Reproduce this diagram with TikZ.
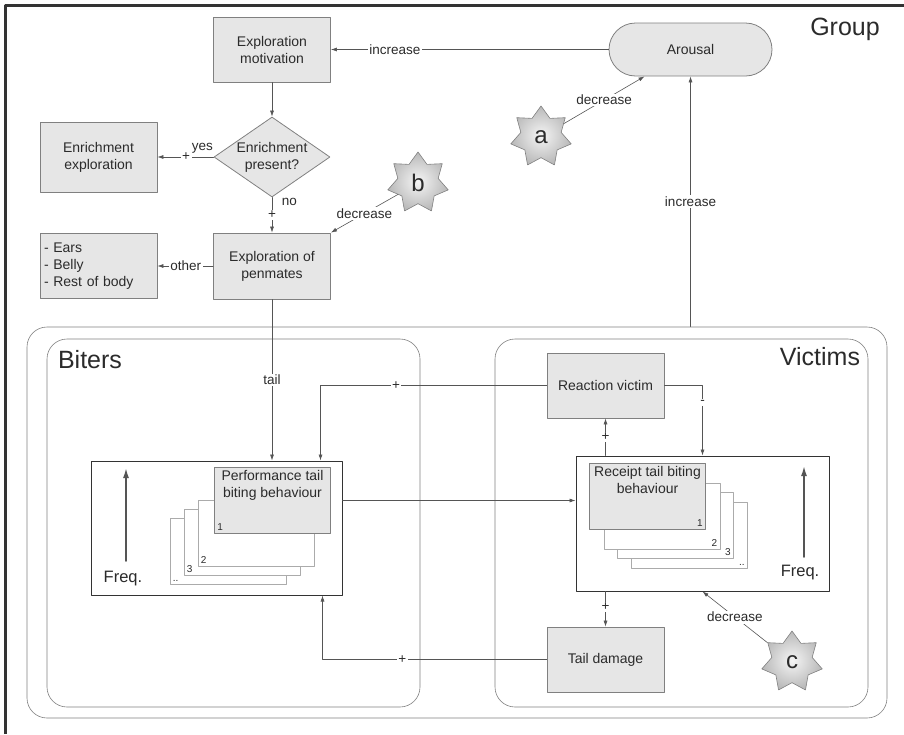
\documentclass[tikz,border=0pt]{standalone}
\usepackage{fontspec}
\setmainfont{Liberation Sans}
\usetikzlibrary{arrows.meta,shapes.geometric,shapes.misc,calc}
\definecolor{boxgray}{HTML}{E6E6E6}
\definecolor{edgegray}{HTML}{808080}
\definecolor{linegray}{HTML}{555555}
\definecolor{cardgray}{HTML}{ABABAB}
\definecolor{txtgray}{HTML}{2B2B2B}
\tikzset{
    box/.style={
        draw=edgegray, fill=boxgray, line width=0.8pt,
        minimum width=117pt, minimum height=65pt,
        align=center, inner sep=2pt,
        font=\fontsize{14}{17}\selectfont
    },
    decision/.style={
        box, shape=diamond, minimum width=116pt, minimum height=80pt,
        inner sep=0pt, aspect=1.45
    },
    pill/.style={
        box, shape=rounded rectangle, minimum width=167pt, minimum height=53pt
    },
    area/.style={
        draw=edgegray, line width=0.6pt, rounded corners=20pt
    },
    frame/.style={
        draw=black!80, fill=white, line width=1pt
    },
    card/.style={
        draw=cardgray, fill=white, line width=0.6pt,
        minimum width=116pt, minimum height=66pt
    },
    topcard/.style={
        card, draw=edgegray, fill=boxgray
    },
    cardtxt/.style={
        align=center, inner sep=3pt, font=\fontsize{14}{17}\selectfont
    },
    num/.style={
        inner sep=3pt, font=\fontsize{10}{12}\selectfont
    },
    lab/.style={
        fill=white, inner sep=1.5pt, font=\fontsize{13.5}{16}\selectfont
    },
    title/.style={
        font=\fontsize{25}{30}\selectfont
    },
    burst/.style={
        shape=star, star points=7, star point ratio=1.5,
        minimum size=62pt, inner sep=0pt,
        draw=edgegray, line width=0.6pt,
        inner color=gray!8, outer color=gray!55,
        font=\fontsize{24}{28}\selectfont
    },
    arr/.style={
        draw=linegray, line width=0.6pt, -{Latex[length=6pt,width=4pt]}
    },
    freq/.style={
        draw=linegray, line width=1.6pt, -{Latex[length=10pt,width=6pt]}
    }
}

\begin{document}
\begin{tikzpicture}[x=1pt, y=-1pt, line cap=round, line join=round, text=txtgray]

\useasboundingbox (0,0) rectangle (904,734);

% outer frame
\draw[line width=3pt, color=black!80, line cap=butt] (5.5,734) -- (5.5,5.5) -- (904,5.5);

% group, biters, victims
\node[area, minimum width=860pt, minimum height=391pt] (grp) at (457,522.5) {};
\node[area, minimum width=373pt, minimum height=368pt] (bit) at (233.5,523) {};
\node[area, minimum width=373pt, minimum height=368pt] (vic) at (681.5,523) {};
\node[title] (grpt) at (845,29) {Group};
\node[title] (bitt) at (90,360) {Biters};
\node[title] (vict) at (820,357) {Victims};

% exploration part
\node[box] (mot) at (272,49.5) {Exploration\\motivation};
\node[decision] (enr) at (272,157) {Enrichment\\present?};
\node[box, minimum height=70pt] (enx) at (98.5,157) {Enrichment\\exploration};
\node[box, minimum height=66pt] (pen) at (272,266) {Exploration of\\penmates};
\node[box, text width=109pt, align=left] (ears) at (98.5,266) {- Ears\\- Belly\\- Rest of body};
\node[pill] (arousal) at (690.5,49.5) {Arousal};

\node[burst] (sa) at (541,137) {a};
\node[burst] (sb) at (418,183) {b};
\node[burst] (sc) at (792,662) {c};

% performance (biters)
\node[frame, minimum width=251pt, minimum height=134pt] (pfr) at (216.5,528) {};
\node[card] (p4) at (228,551.5) {};
\node[card] (p3) at (242,542) {};
\node[card] (p2) at (256,533) {};
\node[topcard] (p1) at (272.5,500.5) {};
\node[cardtxt, anchor=north] (p1t) at (p1.north) {Performance tail\\biting behaviour};
\node[num, anchor=south west] (p1n) at (p1.south west) {1};
\node[num, anchor=south west] (p2n) at (p2.south west) {2};
\node[num, anchor=south west] (p3n) at (p3.south west) {3};
\node[num, anchor=south west] (p4n) at (p4.south west) {..};
\draw[freq] (126,561) -- (126,468);
\node[font=\fontsize{16.5}{20}\selectfont] (pfq) at (123,579) {Freq.};

% receipt (victims)
\node[frame, minimum width=253pt, minimum height=135pt] (rfr) at (702.5,523.5) {};
\node[card] (r4) at (689.5,535) {};
\node[card] (r3) at (675.5,525) {};
\node[card] (r2) at (662,516) {};
\node[topcard] (r1) at (647.5,496) {};
\node[cardtxt, anchor=north] (r1t) at (r1.north) {Receipt tail biting\\behaviour};
\node[num, anchor=south east] (r1n) at (r1.south east) {1};
\node[num, anchor=south east] (r2n) at (r2.south east) {2};
\node[num, anchor=south east] (r3n) at (r3.south east) {3};
\node[num, anchor=south east] (r4n) at (r4.south east) {..};
\draw[freq] (804,557) -- (804,466);
\node[font=\fontsize{16.5}{20}\selectfont] (rfq) at (800,573) {Freq.};

\node[box] (react) at (605.5,385.5) {Reaction victim};
\node[box] (tdam) at (605.5,659.5) {Tail damage};

% connectors
\draw[arr] (arousal) -- node[lab, pos=0.77] (l1) {increase} (mot);
\draw[arr] (mot) -- (enr);
\draw[arr] (enr) -- node[lab, pos=0.49] (l2) {+} node[lab, fill=none, pos=0.2, above=2pt] (l3) {yes} (enx);
\draw[arr] (enr) -- node[lab] (l4) {+} node[lab, fill=none, pos=0.14, right=8pt] (l5) {no} (pen);
\draw[arr] (pen) -- node[lab, pos=0.49] (l6) {other} (ears);
\draw[arr] (sb) -- node[lab] (l7) {decrease} (pen.north east);
\draw[arr] (sa) -- node[lab] (l8) {decrease} (arousal);
\draw[arr] (grp.north -| arousal) -- node[lab] (l9) {increase} (arousal);
\draw[arr] (pen) -- node[lab] (l10) {tail} (pen |- pfr.north);
\draw[arr] (react) -| node[lab, pos=0.333] (l11) {+} ($(pfr.north east)+(-22,0)$);
\draw[arr] (react) -| node[lab, pos=0.624] (l12) {-} (rfr.north);
\draw[arr] (rfr.north -| react) -- node[lab] (l13) {+} (react);
\draw[arr] (rfr.south -| tdam) -- node[lab, pos=0.44] (l14) {+} (tdam);
\draw[arr] (tdam) -| node[lab, pos=0.322] (l15) {+} ($(pfr.south east)+(-20,0)$);
\draw[arr] (pfr.east |- p1) -- (rfr.west |- p1);
\draw[arr] (sc) -- node[lab] (l16) {decrease} (rfr.south);

\end{tikzpicture}
\end{document}
